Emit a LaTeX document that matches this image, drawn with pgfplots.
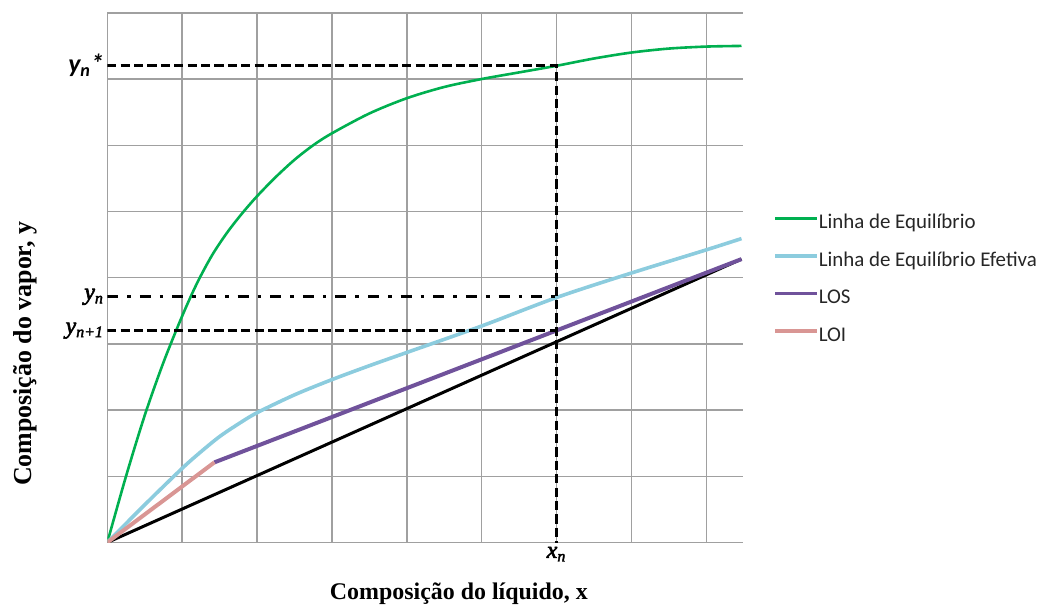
\documentclass[border=0pt]{standalone}
\usepackage{fontspec}
\setmainfont{Liberation Serif}
\newfontfamily\carlito{Carlito}
\newfontfamily\fakebold{Liberation Serif}[FakeBold=2.5]
\usepackage{pgfplots}
\pgfplotsset{compat=1.18}

\definecolor{eqgreen}{RGB}{0,176,80}
\definecolor{effblue}{RGB}{140,204,222}
\definecolor{lospurple}{RGB}{112,82,155}
\definecolor{loipink}{RGB}{217,150,148}
\definecolor{gridgray}{RGB}{160,160,160}

\begin{document}
\begin{tikzpicture}
\path[use as bounding box] (-53.65bp,-32.25bp) rectangle (469.35bp,271.25bp);
\begin{axis}[
    at={(0,0)}, anchor=south west,
    scale only axis,
    width=317.85bp, height=264.85bp,
    xmin=0, xmax=8.49, ymin=0, ymax=8,
    clip mode=individual,
    xtick={0,...,8}, ytick={0,...,8},
    xticklabels={}, yticklabels={},
    major tick length=0pt,
    grid=major,
    grid style={gridgray, line width=0.7bp},
    axis line style={draw=none},
    xlabel={\fontsize{12}{14}\selectfont\bfseries Composição do líquido, x},
    ylabel={\fontsize{13}{15}\selectfont\bfseries Composição do vapor, y},
    xlabel style={at={(axis description cs:0.553,-0.097)}, anchor=center},
    ylabel style={at={(axis description cs:-0.129,0.356)}, anchor=center},
    legend style={at={(1,0.622)}, anchor=north west, xshift=15bp,
      draw=none, fill=none, inner sep=0pt, row sep=8.8bp, column sep=0pt,
      font=\carlito\fontsize{10.5}{12}\selectfont,
      nodes={inner sep=0pt, text height=7.5bp, text depth=2.5bp, text=black!85}},
    legend cell align=left,
    legend image code/.code={\draw[#1, line width=1.7bp] (0bp,2.6bp) -- (21bp,2.6bp);},
]
% diagonal y = x
\addplot[black, line width=1.5bp, forget plot] coordinates {(0,0) (8.47,4.28)};

% equilibrium curve
\addplot[eqgreen, line width=1.3bp, smooth] coordinates {
  (0,0) (0.25,1.0) (0.5,1.92) (0.75,2.72) (1.0,3.42) (1.2,3.92) (1.4,4.34)
  (1.6,4.68) (1.8,4.97) (2.0,5.23) (2.25,5.52) (2.5,5.78) (2.75,6.0) (3.0,6.18)
  (3.5,6.48) (4.0,6.71) (4.5,6.88) (5.0,7.0) (5.5,7.1) (6.0,7.2)
  (6.5,7.31) (7.0,7.4) (7.5,7.46) (8.0,7.49) (8.47,7.5)};
\addlegendentry{Linha de Equilíbrio}

% effective equilibrium curve
\addplot[effblue, line width=1.8bp, smooth] coordinates {
  (0,0) (0.5,0.57) (1.0,1.12) (1.25,1.37) (1.5,1.6) (1.75,1.79) (2.0,1.96)
  (2.5,2.23) (3.0,2.46) (3.5,2.67) (4.0,2.87) (5.0,3.27) (6.0,3.7)
  (7.0,4.07) (8.0,4.42) (8.47,4.59)};
\addlegendentry{Linha de Equilíbrio Efetiva}

% operating line, rectifying section
\addplot[lospurple, line width=2bp] coordinates {(1.43,1.21) (8.47,4.28)};
\addlegendentry{LOS}

% operating line, stripping section
\addplot[loipink, line width=2bp] coordinates {(0,0) (1.43,1.21)};
\addlegendentry{LOI}

% construction lines
\addplot[black, line width=1.4bp, dash pattern=on 4.6bp off 2.1bp, forget plot]
  coordinates {(0,7.2) (6,7.2) (6,0)};
\addplot[black, line width=1.4bp, dash pattern=on 4.6bp off 2.1bp, forget plot]
  coordinates {(0,3.2) (6,3.2)};
\addplot[black, line width=1.4bp, dash pattern=on 5.5bp off 4.5bp on 1.8bp off 4.5bp, forget plot]
  coordinates {(0,3.71) (6,3.71)};

% labels of the construction lines
\node[anchor=east, inner sep=1.5bp, font=\carlito\fontsize{13}{14}\selectfont\bfseries\itshape]
  at (axis cs:0,7.2) {y\textsubscript{n}*};
\node[anchor=east, inner sep=1.5bp, font=\fakebold\fontsize{12}{14}\selectfont\itshape]
  at (axis cs:0,3.71) {y\textsubscript{n}};
\node[anchor=east, inner sep=1.5bp, font=\fakebold\fontsize{12}{14}\selectfont\itshape]
  at (axis cs:0,3.2) {y\textsubscript{n+1}};
\node[anchor=north, inner sep=2bp, font=\fakebold\fontsize{12}{14}\selectfont\itshape]
  at (axis cs:6,0) {x\textsubscript{n}};
\end{axis}
\end{tikzpicture}
\end{document}
